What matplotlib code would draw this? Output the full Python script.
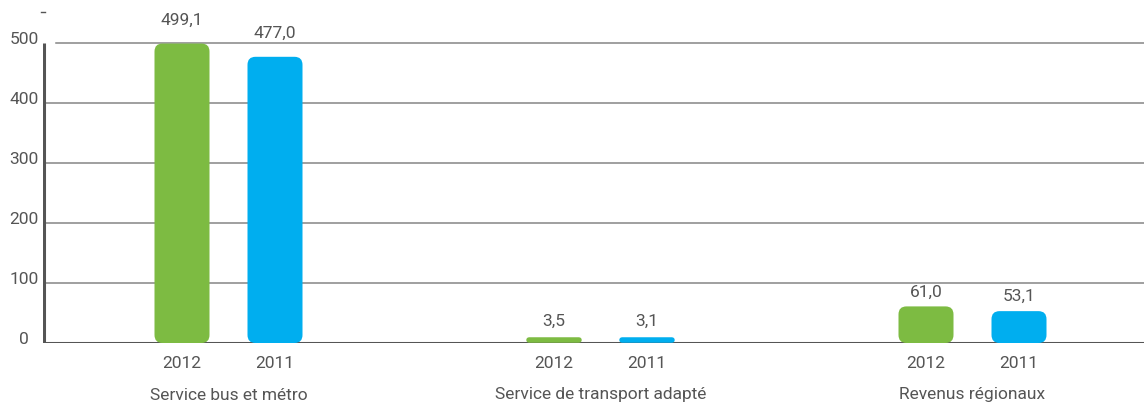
import matplotlib
matplotlib.use("Agg")
import matplotlib.pyplot as plt
from matplotlib.patches import FancyBboxPatch

categories = ["Service bus et métro", "Service de transport adapté", "Revenus régionaux"]
years = ["2012", "2011"]
values_2012 = [499.1, 3.5, 61.0]
values_2011 = [477.0, 3.1, 53.1]
value_labels_2012 = ["499,1", "3,5", "61,0"]
value_labels_2011 = ["477,0", "3,1", "53,1"]
y_ticks = [0, 100, 200, 300, 400, 500]

GREEN = "#7DBB42"
BLUE = "#00AEEF"
TXT = "#555555"
FS = 12.5

plt.rcParams['font.family'] = ['Roboto', 'DejaVu Sans']

W, H = 1144, 403
fig = plt.figure(figsize=(W / 100, H / 100), dpi=100)
ax_left, ax_right, ax_bottom, ax_top = 43, 1144, 343, 12
ax = fig.add_axes([ax_left / W, 1 - ax_bottom / H, (ax_right - ax_left) / W, (ax_bottom - ax_top) / H])

x0_px = 182.0
unit_px = 93.0
xmin = (ax_left - x0_px) / unit_px
xmax = (ax_right - x0_px) / unit_px
ppu_y = 0.6  # px per data unit
ymax = (ax_bottom - ax_top) / ppu_y
ax.set_xlim(xmin, xmax)
ax.set_ylim(0, ymax)
ax.axis("off")

# gridlines
for t in y_ticks[1:]:
    start = 0.0 if t < 500 else (56 - ax_left) / (ax_right - ax_left)
    ax.axhline(t, xmin=start, xmax=1, color="#858585", lw=1.1, zorder=1)
# baseline & left spine
ax.axhline(0, color="#555555", lw=2.2, zorder=2)
ax.plot([xmin + 1 / unit_px, xmin + 1 / unit_px], [0, 500], color="#555555", lw=2.2, zorder=4, solid_capstyle="butt")
# small dash at top-left
ax.plot([xmin - 2 / unit_px, xmin + 2 / unit_px], [ymax, ymax], color="#555555", lw=1, clip_on=False)

# y tick labels
for t in y_ticks:
    ax.annotate(str(t), xy=(xmin, t), xycoords="data", xytext=(-19, 3), textcoords="offset pixels",
                ha="center", va="center", fontsize=FS, color=TXT, annotation_clip=False)

bar_w = 55 / unit_px
r_px = 8.0
group_gap = 4
for i, cat in enumerate(categories):
    for j, (vals, labs, col) in enumerate([(values_2012, value_labels_2012, GREEN),
                                           (values_2011, value_labels_2011, BLUE)]):
        xc = i * group_gap + j
        h = vals[i]
        h_px = h * ppu_y
        small = h_px <= 6
        if not small:
            r = min(r_px, h_px / 2)
            rx = r / unit_px
            aspect = (r / ppu_y) / rx
            p = FancyBboxPatch((xc - bar_w / 2, 0), bar_w, h,
                               boxstyle=f"round,pad=0,rounding_size={rx}", mutation_aspect=aspect,
                               facecolor=col, edgecolor="none", zorder=3)
            ax.add_patch(p)
        else:
            lw_px = 5.5
            ax.plot([xc - bar_w / 2 + lw_px / 2 / unit_px, xc + bar_w / 2 - lw_px / 2 / unit_px],
                    [(lw_px / 2) / ppu_y, (lw_px / 2) / ppu_y], color=col, lw=lw_px * 0.72,
                    solid_capstyle="round", zorder=3)
        off = 16 if h_px > 200 else (7 if not small else 12)
        ax.annotate(labs[i], xy=(xc, h), xytext=(0, off), textcoords="offset pixels",
                    ha="center", va="bottom", fontsize=FS, color=TXT)
        ax.annotate(years[j], xy=(xc, 0), xytext=(0, -20), textcoords="offset pixels",
                    ha="center", va="center", fontsize=FS, color=TXT, annotation_clip=False)
    ax.annotate(cat, xy=(i * group_gap + 0.5, 0), xytext=(0, -52), textcoords="offset pixels",
                ha="center", va="center", fontsize=FS, color=TXT, annotation_clip=False)

fig.savefig("out.png", dpi=100)
